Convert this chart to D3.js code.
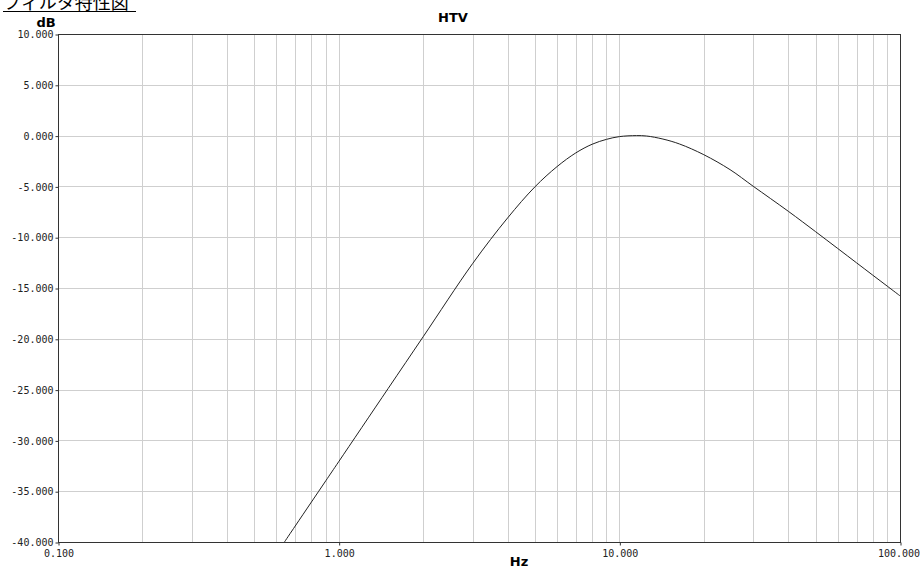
<!DOCTYPE html>
<html><head><meta charset="utf-8">
<script src="https://cdn.jsdelivr.net/npm/d3@7"></script>
<style>
html,body{margin:0;padding:0;background:#fff;}
svg{display:block;}
</style></head>
<body>
<svg id="chart" width="920" height="568"></svg>
<script>
const pageTitle = "フィルタ特性図";
const chartTitle = "HTV";
const yAxisTitle = "dB";
const xAxisTitle = "Hz";
const freqHz = [0.641, 0.7, 0.8, 0.9, 1.0, 1.5, 2, 3, 4, 5, 6, 7, 8, 9, 10, 11.5, 12.5, 14.3, 16.4, 20, 24.8, 30, 40, 50, 60, 70, 80, 90, 100];
const gainDb = [-40, -38.43, -36.06, -33.97, -32.1, -24.9, -19.8, -12.6, -8.1, -5.05, -3.05, -1.7, -0.85, -0.37, -0.1, 0, -0.04, -0.34, -0.83, -1.88, -3.35, -4.99, -7.45, -9.45, -11.11, -12.52, -13.74, -14.81, -15.77];
const yTicks = [10, 5, 0, -5, -10, -15, -20, -25, -30, -35, -40];
const xTickValues = [0.1, 1, 10, 100];
const xTickLabels = ["0.100", "1.000", "10.000", "100.000"];

const svg = d3.select("#chart");
const L = 58, R = 900, T = 34, B = 542;
const x = d3.scaleLog().domain([0.1, 100]).range([L, R]);
const y = d3.scaleLinear().domain([-40, 10]).range([B, T]);

// page title
svg.append("text").attr("x", 3).attr("y", 9)
  .attr("font-family", "'Noto Sans CJK JP', sans-serif").attr("font-size", 18)
  .attr("fill", "#000").text(pageTitle);
svg.append("line").attr("x1", 3).attr("x2", 136).attr("y1", 11.5).attr("y2", 11.5)
  .attr("stroke", "#000").attr("stroke-width", 1);

// grid
const minorX = [];
for (let d = 0.1; d < 100; d *= 10) for (let k = 1; k <= 9; k++) minorX.push(d * k);
minorX.push(100);
svg.append("g").selectAll("line").data(minorX).join("line")
  .attr("x1", d => Math.round(x(d)) + 0.5).attr("x2", d => Math.round(x(d)) + 0.5)
  .attr("y1", T).attr("y2", B).attr("stroke", "#cfcfcf").attr("stroke-width", 1);
svg.append("g").selectAll("line").data(yTicks).join("line")
  .attr("x1", L).attr("x2", R)
  .attr("y1", d => Math.round(y(d)) + 0.5).attr("y2", d => Math.round(y(d)) + 0.5)
  .attr("stroke", "#cfcfcf").attr("stroke-width", 1);

// axes
const fmt = v => v.toFixed(3);
const yAxis = d3.axisLeft(y).tickValues(yTicks).tickSize(3).tickPadding(2).tickFormat(fmt);
const gy = svg.append("g").attr("transform", `translate(${L + 0.5},0.5)`).call(yAxis);
gy.select(".domain").remove();
gy.selectAll("line").attr("stroke", "#333");
gy.selectAll("text").attr("font-family", "'DejaVu Sans Mono', monospace").attr("font-size", 10).attr("fill", "#222");

const xAxis = d3.axisBottom(x).tickValues(xTickValues).tickSize(3).tickPadding(4)
  .tickFormat((d, i) => xTickLabels[i]);
const gx = svg.append("g").attr("transform", `translate(0.5,${B + 0.5})`).call(xAxis);
gx.select(".domain").remove();
gx.selectAll("line").attr("stroke", "#333");
gx.selectAll("text").attr("font-family", "'DejaVu Sans Mono', monospace").attr("font-size", 10).attr("fill", "#222")
  .attr("dx", (d, i) => i === xTickValues.length - 1 ? -2 : 0);

// frame
svg.append("rect").attr("x", L + 0.5).attr("y", T + 0.5).attr("width", R - L).attr("height", B - T)
  .attr("fill", "none").attr("stroke", "#333").attr("stroke-width", 1);

// curve
const line = d3.line().x((d, i) => x(freqHz[i])).y(d => y(d)).curve(d3.curveCatmullRom.alpha(0.5));
svg.append("path").datum(gainDb).attr("d", line)
  .attr("fill", "none").attr("stroke", "#222").attr("stroke-width", 1);

// titles
svg.append("text").attr("x", 453).attr("y", 22).attr("text-anchor", "middle")
  .attr("font-family", "'DejaVu Sans', sans-serif").attr("font-weight", "bold").attr("font-size", 13)
  .attr("fill", "#000").text(chartTitle);
svg.append("text").attr("x", 46).attr("y", 27).attr("text-anchor", "middle")
  .attr("font-family", "'DejaVu Sans', sans-serif").attr("font-weight", "bold").attr("font-size", 13)
  .attr("fill", "#000").text(yAxisTitle);
svg.append("text").attr("x", 519).attr("y", 566).attr("text-anchor", "middle")
  .attr("font-family", "'DejaVu Sans', sans-serif").attr("font-weight", "bold").attr("font-size", 13)
  .attr("fill", "#000").text(xAxisTitle);
</script>
</body></html>
